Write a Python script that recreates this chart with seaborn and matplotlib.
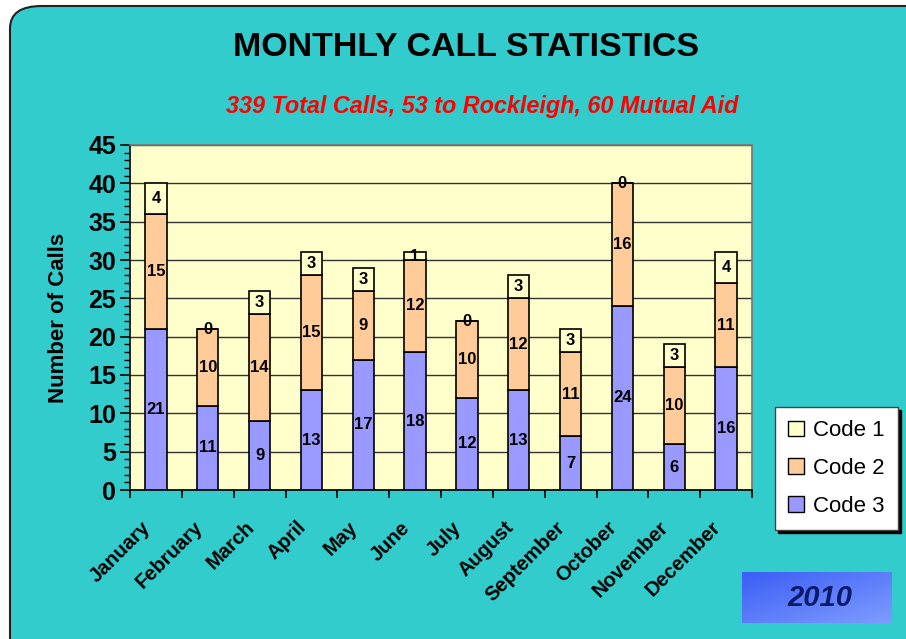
import numpy as np
import pandas as pd
import matplotlib.pyplot as plt
import matplotlib.transforms as mtransforms
import seaborn as sns
from matplotlib.patches import FancyBboxPatch, Patch
from matplotlib.ticker import MultipleLocator, FixedLocator

# 数据
months = ['January', 'February', 'March', 'April', 'May', 'June', 'July',
          'August', 'September', 'October', 'November', 'December']
code3 = [21, 11, 9, 13, 17, 18, 12, 13, 7, 24, 6, 16]
code2 = [15, 10, 14, 15, 9, 12, 10, 12, 11, 16, 10, 11]
code1 = [4, 0, 3, 3, 3, 1, 0, 3, 3, 0, 3, 4]
yticks = [0, 5, 10, 15, 20, 25, 30, 35, 40, 45]

df = pd.DataFrame({'Month': months, 'Code 3': code3, 'Code 2': code2, 'Code 1': code1})
df['b2'] = df['Code 3']
df['b1'] = df['Code 3'] + df['Code 2']

sns.set_theme(style='white')
plt.rcParams['font.family'] = ['Liberation Sans', 'DejaVu Sans']
plt.rcParams['text.color'] = 'black'
plt.rcParams['axes.labelcolor'] = 'black'
plt.rcParams['xtick.color'] = 'black'
plt.rcParams['ytick.color'] = 'black'

fig = plt.figure(figsize=(9.06, 6.39), dpi=100)
fig.patch.set_facecolor('white')

# 圆角背景
bg = FancyBboxPatch((10 / 906, -0.05), 1.05, 1.05 - 6 / 639,
                    boxstyle='round,pad=0,rounding_size=0.035',
                    transform=fig.transFigure, facecolor='#33CCCC',
                    edgecolor='#222222', linewidth=1.5, zorder=-5)
fig.patches.append(bg)

ax = fig.add_axes([130 / 906, 1 - 490 / 639, 622 / 906, 345 / 639])
ax.set_facecolor('#FFFFCC')

colors = {'Code 3': '#9999FF', 'Code 2': '#FFCC99', 'Code 1': '#FFFFCC'}
sns.barplot(data=df, x='Month', y='Code 3', color=colors['Code 3'], width=0.41,
            edgecolor='black', linewidth=1.2, ax=ax, saturation=1, zorder=3)
sns.barplot(data=df, x='Month', y='Code 2', bottom=df['b2'], color=colors['Code 2'], width=0.41,
            edgecolor='black', linewidth=1.2, ax=ax, saturation=1, zorder=3)
sns.barplot(data=df, x='Month', y='Code 1', bottom=df['b1'], color=colors['Code 1'], width=0.41,
            edgecolor='black', linewidth=1.2, ax=ax, saturation=1, zorder=3)

# 数值标签
for i in range(len(months)):
    ax.text(i, code3[i] / 2, str(code3[i]), ha='center', va='center',
            fontsize=12, fontweight='bold', zorder=5)
    ax.text(i, code3[i] + code2[i] / 2, str(code2[i]), ha='center', va='center',
            fontsize=12, fontweight='bold', zorder=5)
    ax.text(i, code3[i] + code2[i] + code1[i] / 2, str(code1[i]), ha='center', va='center',
            fontsize=12, fontweight='bold', zorder=5)

ax.set_xlim(-0.5, 11.5)
ax.set_ylim(0, 45)
ax.set_yticks(yticks)
ax.yaxis.set_minor_locator(MultipleLocator(1))
ax.xaxis.set_minor_locator(FixedLocator(np.arange(-0.5, 12, 1)))
ax.grid(axis='y', which='major', color='#333333', linewidth=1.0, zorder=0)
ax.set_axisbelow(True)
for s in ['top', 'right']:
    ax.spines[s].set_color('#777777')
for s in ['left', 'bottom']:
    ax.spines[s].set_color('black')
    ax.spines[s].set_linewidth(1.2)

ax.tick_params(axis='y', which='major', length=7, width=1.2, direction='out', left=True,
               labelsize=18, pad=3)
ax.tick_params(axis='y', which='minor', length=4, width=1, direction='out', left=True)
ax.tick_params(axis='x', which='major', length=0, pad=20)
ax.tick_params(axis='x', which='minor', length=6, width=1.2, direction='out', bottom=True)
for lab in ax.get_yticklabels():
    lab.set_fontweight('bold')
ax.set_xticks(range(12))
ax.set_xticklabels(months, rotation=45, ha='right', rotation_mode='anchor',
                   fontsize=14.5, fontweight='bold')
# 标签稍向左移
offset = mtransforms.ScaledTranslation(-15 / 100, 0, fig.dpi_scale_trans)
for lab in ax.get_xticklabels():
    lab.set_transform(lab.get_transform() + offset)
ax.set_xlabel(None)
ax.set_ylabel('Number of Calls', fontsize=16, fontweight='bold', labelpad=14)

# 标题
fig.text(466 / 906, 1 - 47 / 639, 'MONTHLY CALL STATISTICS', ha='center', va='center',
         fontsize=24.5, fontweight='bold')
fig.text(482 / 906, 1 - 107 / 639, '339 Total Calls, 53 to Rockleigh, 60 Mutual Aid',
         ha='center', va='center', fontsize=16.8, fontweight='bold', style='italic', color='red')

# 图例
handles = [Patch(facecolor=colors[k], edgecolor='black', label=k) for k in ['Code 1', 'Code 2', 'Code 3']]
leg = fig.legend(handles=handles, loc='upper left', bbox_to_anchor=(775 / 906, 1 - 407 / 639),
                 fontsize=16, frameon=True, fancybox=False, shadow={'color': 'black', 'alpha': 1},
                 handlelength=0.7, handleheight=0.7, handletextpad=0.4, labelspacing=0.75,
                 borderpad=0.6, borderaxespad=0)
leg.get_frame().set_edgecolor('#444444')
leg.get_frame().set_linewidth(1)

# 2010 框
ax2 = fig.add_axes([742 / 906, 1 - 623 / 639, 150 / 906, 51 / 639])
gx, gy = np.meshgrid(np.linspace(0, 1, 100), np.linspace(0, 1, 40))
grad = (gx + gy) / 2
ax2.imshow(grad, cmap=sns.blend_palette(['#3B5EF5', '#7F9CFF'], as_cmap=True),
           aspect='auto', extent=[0, 1, 0, 1], origin='upper')
ax2.text(0.52, 0.5, '2010', ha='center', va='center', fontsize=21, fontweight='bold',
         style='italic', color='#0A1A6E', transform=ax2.transAxes)
ax2.set_axis_off()

fig.savefig('out.png', dpi=100)
